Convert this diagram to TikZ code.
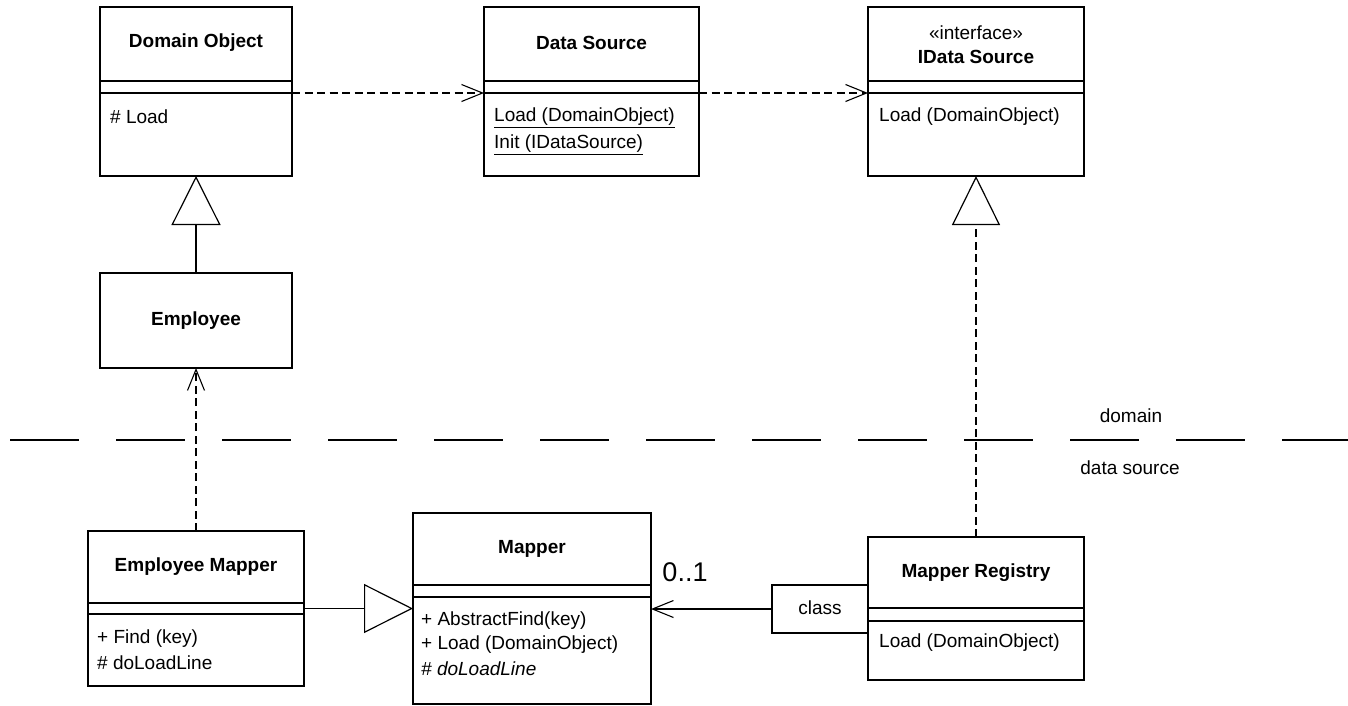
\documentclass[tikz,border=0pt]{standalone}
\usepackage{fontspec}
\setmainfont{Liberation Sans}
\usetikzlibrary{arrows.meta}
\begin{document}
\begin{tikzpicture}[x=1pt,y=-1pt,
  classbox/.style={draw, line width=1.2pt, inner sep=0pt, outer sep=0pt, anchor=north west},
  sepline/.style={line width=1.2pt},
  txt/.style={font=\fontsize{19}{23}\selectfont, inner sep=0pt},
  ttl/.style={font=\fontsize{19}{23}\selectfont\bfseries, inner sep=0pt},
  lefttxt/.style={txt, anchor=west},
  dep/.style={line width=1.1pt, dash pattern=on 8pt off 4.5pt, -{Straight Barb[length=21pt,width=17pt,line width=1.1pt]}},
  gen/.style={line width=1.1pt, -{Triangle[open,length=49pt,width=49pt,line width=1.2pt]}},
  real/.style={line width=1.1pt, dash pattern=on 8pt off 4.5pt, -{Triangle[open,length=49pt,width=48pt,line width=1.2pt]}},
  assoc/.style={line width=1.1pt, -{Straight Barb[length=21pt,width=17pt,line width=1.1pt]}},
  layer/.style={line width=2.6pt, dash pattern=on 69pt off 37pt}
]
\useasboundingbox (0,0) rectangle (1348,705);

% Domain Object
\node[classbox, minimum width=192pt, minimum height=169pt] (do) at (100,7) {};
\draw[sepline] (100,81) -- (292,81);
\draw[sepline] (100,93) -- (292,93);
\node[ttl] (dot) at (196,43) {Domain Object};
\node[lefttxt] (dol) at (110,117) {\# Load};
\coordinate (doS) at (292,93);

% Data Source
\node[classbox, minimum width=215pt, minimum height=169pt] (ds) at (484,7) {};
\draw[sepline] (484,81) -- (699,81);
\draw[sepline] (484,93) -- (699,93);
\node[ttl] (dst) at (591.5,43) {Data Source};
\node[lefttxt] (dsl) at (494,118) {\underline{Load (DomainObject)}};
\node[lefttxt] (dsi) at (494,145) {\underline{Init (IDataSource)}};
\coordinate (dsS) at (699,93);

% IData Source
\node[classbox, minimum width=216pt, minimum height=169pt] (ids) at (868,7) {};
\draw[sepline] (868,81) -- (1084,81);
\draw[sepline] (868,93) -- (1084,93);
\node[txt] (idss) at (976,33) {«interface»};
\node[ttl] (idst) at (976,57) {IData Source};
\node[lefttxt] (idsl) at (879,117) {Load (DomainObject)};

% Employee
\node[classbox, minimum width=192pt, minimum height=95pt] (emp) at (100,273) {};
\node[ttl] (empt) at (196,321) {Employee};

% Employee Mapper
\node[classbox, minimum width=216pt, minimum height=155pt] (em) at (88,531) {};
\draw[sepline] (88,603) -- (304,603);
\draw[sepline] (88,614) -- (304,614);
\node[ttl] (emt) at (196,567) {Employee Mapper};
\node[lefttxt] (emf) at (97,639) {+ Find (key)};
\node[lefttxt] (emd) at (97,663) {\# doLoadLine};

% Mapper
\node[classbox, minimum width=238pt, minimum height=191pt] (map) at (413,513) {};
\draw[sepline] (413,585) -- (651,585);
\draw[sepline] (413,597) -- (651,597);
\node[ttl] (mapt) at (532,549) {Mapper};
\node[lefttxt] (mapa) at (421,621) {+ AbstractFind(key)};
\node[lefttxt] (mapl) at (421,645) {+ Load (DomainObject)};
\node[lefttxt] (mapd) at (421,669) {\itshape\# doLoadLine};

% Mapper Registry
\node[classbox, minimum width=216pt, minimum height=143pt] (mr) at (868,537) {};
\draw[sepline] (868,608) -- (1084,608);
\draw[sepline] (868,621) -- (1084,621);
\node[ttl] (mrt) at (976,573) {Mapper Registry};
\node[lefttxt] (mrl) at (879,643) {Load (DomainObject)};

% qualifier
\node[classbox, minimum width=96pt, minimum height=48pt] (cls) at (772,585) {};
\node[txt] (clst) at (820,608) {class};

% multiplicity
\node[txt, font=\fontsize{27}{30}\selectfont] (mult) at (685,572) {0..1};

% layer line and labels
\coordinate (layL) at (10,440);
\coordinate (layR) at (1352,440);
\draw[layer] (layL) -- (layR);
\node[txt] (dom) at (1131,416) {domain};
\node[txt] (dsrc) at (1130,468) {data source};

% connectors
\draw[dep] (doS) -- (doS -| ds.west);
\draw[dep] (dsS) -- (dsS -| ids.west);
\draw[gen] (emp.north) -- (do.south);
\draw[dep] (em.north) -- (emp.south);
\draw[gen] (em.east) -- (map.west);
\draw[real] (mr.north) -- (ids.south);
\draw[assoc] (cls.west) -- (cls.west -| map.east);
\end{tikzpicture}
\end{document}
